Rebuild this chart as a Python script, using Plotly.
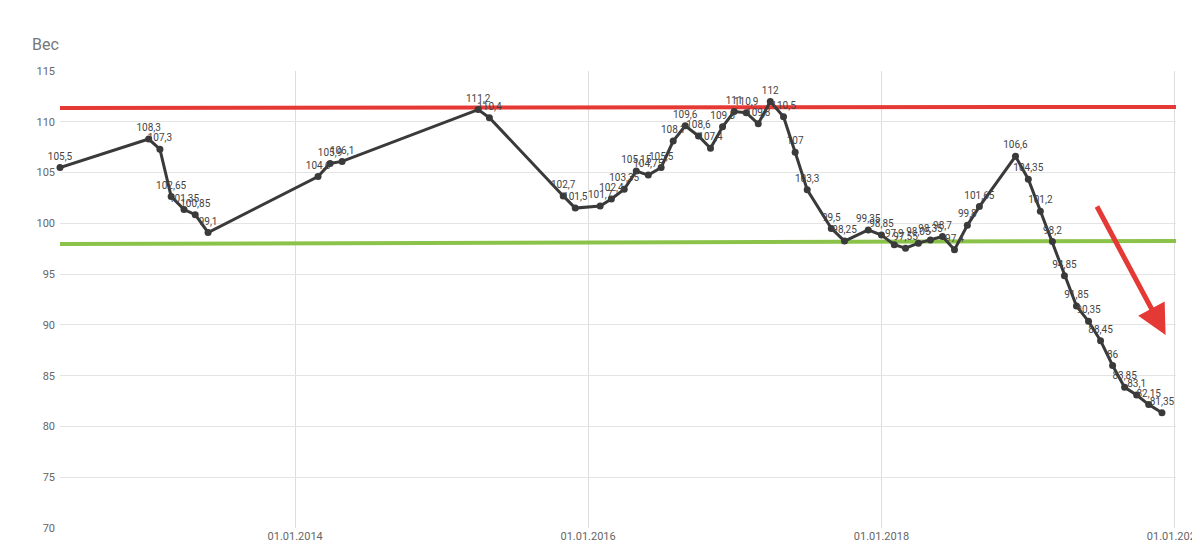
import plotly.graph_objects as go

dates = ["2012-05-25","2013-01-01","2013-01-29","2013-02-26","2013-03-30","2013-04-27","2013-05-29",
         "2014-02-27","2014-03-29","2014-04-28","2015-04-02","2015-04-30","2015-10-31","2015-11-30",
         "2016-01-31","2016-02-28","2016-03-31","2016-04-30","2016-05-30","2016-07-01","2016-07-31",
         "2016-08-30","2016-10-02","2016-11-01","2016-12-01","2016-12-30","2017-01-29","2017-02-28",
         "2017-03-30","2017-05-02","2017-05-31","2017-06-30","2017-08-29","2017-10-01","2017-11-29",
         "2018-01-01","2018-02-02","2018-03-02","2018-04-03","2018-05-03","2018-06-02","2018-07-02",
         "2018-08-03","2018-09-02","2018-12-01","2019-01-02","2019-02-01","2019-03-03","2019-04-02",
         "2019-05-02","2019-06-01","2019-07-01","2019-07-31","2019-08-30","2019-09-29","2019-10-29",
         "2019-12-01"]
weights = [105.5,108.3,107.3,102.65,101.35,100.85,99.1,
           104.6,105.9,106.1,111.2,110.4,102.7,101.5,
           101.7,102.4,103.35,105.15,104.75,105.5,108.1,
           109.6,108.6,107.4,109.5,111,110.9,109.8,
           112,110.5,107,103.3,99.5,98.25,99.35,
           98.85,97.9,97.55,98.05,98.35,98.7,97.4,
           99.8,101.65,106.6,104.35,101.2,98.2,94.85,
           91.85,90.35,88.45,86,83.85,83.1,82.15,
           81.35]
labels = [f"{v:g}".replace(".", ",") for v in weights]

red_x = ["2012-05-25", "2020-01-05"]; red_y = [111.36, 111.46]
green_x = ["2012-05-25", "2020-01-05"]; green_y = [97.97, 98.27]
tick_vals = ["2014-01-01", "2016-01-01", "2018-01-01", "2020-01-01"]
tick_text = ["01.01.2014", "01.01.2016", "01.01.2018", "01.01.2020"]

fig = go.Figure()
fig.add_trace(go.Scatter(x=red_x, y=red_y, mode="lines", line=dict(color="#e53935", width=4), hoverinfo="skip"))
fig.add_trace(go.Scatter(x=green_x, y=green_y, mode="lines", line=dict(color="#8bc34a", width=4), hoverinfo="skip"))
fig.add_trace(go.Scatter(x=dates, y=weights, mode="lines+markers+text", text=labels,
                         textposition="top center", textfont=dict(size=10, color="#444"),
                         line=dict(color="#3a3a3a", width=3), marker=dict(size=7, color="#3a3a3a"),
                         cliponaxis=False))
fig.add_annotation(x="2019-12-10", y=89.0, ax="2019-06-20", ay=101.8, xref="x", yref="y",
                   axref="x", ayref="y", showarrow=True, arrowhead=2, arrowsize=1.2,
                   arrowwidth=5, arrowcolor="#e53935", text="")
fig.update_layout(
    width=1200, height=552, showlegend=False, plot_bgcolor="white", paper_bgcolor="white",
    margin=dict(l=52, r=32, t=63, b=32, autoexpand=False),
    font=dict(family="Roboto", color="#666"),
    title=dict(text="Вес", x=0.02, xanchor="left", y=0.945, font=dict(size=16, color="#777")),
    xaxis=dict(range=["2012-05-25", "2020-01-05"], tickvals=tick_vals, ticktext=tick_text,
               showgrid=True, gridcolor="#ddd", zeroline=False, tickfont=dict(size=11, color="#666"),
               showline=False, automargin=False),
    yaxis=dict(range=[70, 115], dtick=5, showgrid=True, gridcolor="#e4e4e4", zeroline=False,
               tickfont=dict(size=11, color="#666"), ticks="", ticklabelstandoff=4, automargin=False),
)
fig.write_html("out.html")
